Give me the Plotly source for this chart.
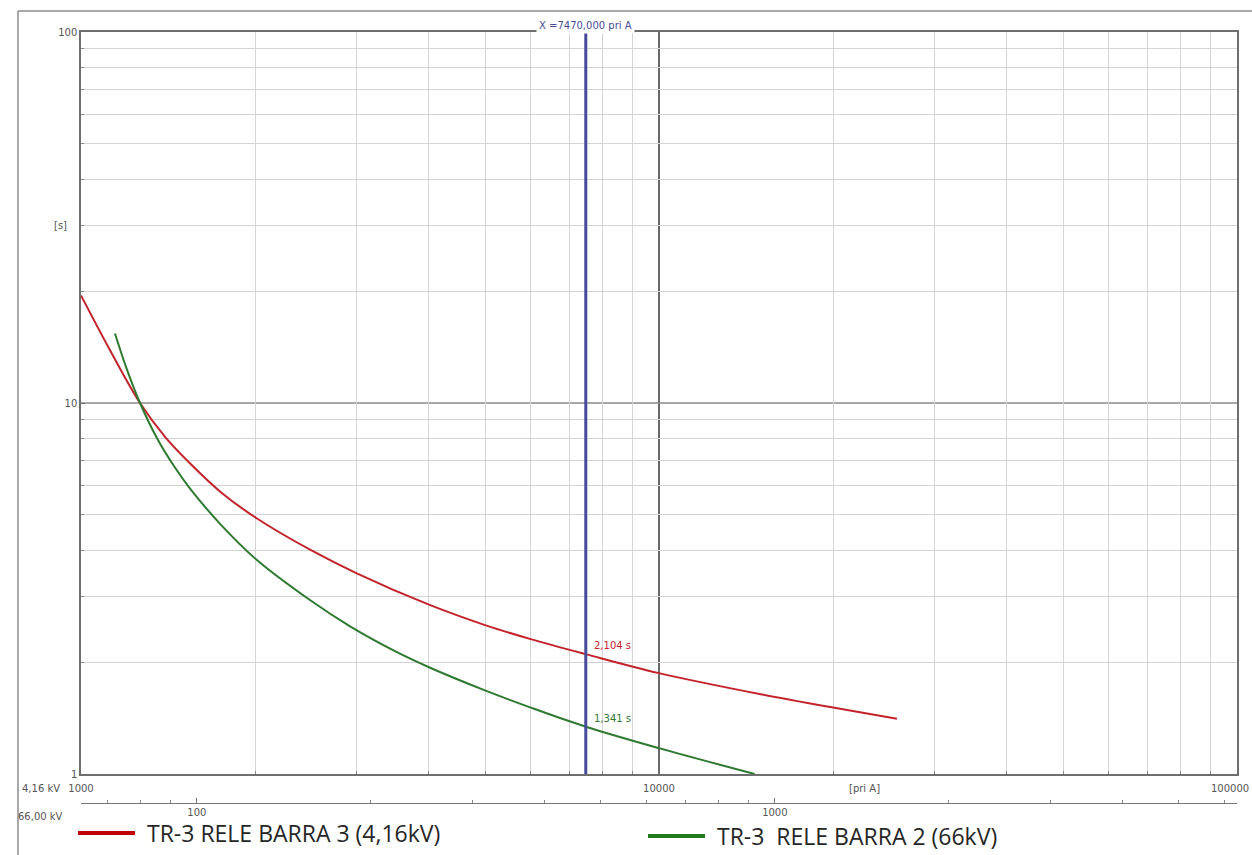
import math
import plotly.graph_objects as go

# ---------------- data ----------------
BASE_KV = 4.16          # primary current axis base (kV)
HV_KV = 66.0            # secondary current axis base (kV)

red_name = "TR-3 RELE BARRA 3 (4,16kV)"
red_current = [1000, 1122, 1265, 1400, 1543, 1750, 2013, 2500, 3000, 4000,
               5000, 6000, 7470, 10000, 15000, 20000, 25800]
red_time = [19.5, 13.9, 10.0, 8.08, 6.88, 5.73, 4.89, 4.01, 3.475, 2.86,
            2.52, 2.31, 2.104, 1.87, 1.64, 1.51, 1.41]

green_name = "TR-3  RELE BARRA 2 (66kV)"
green_current = [1145, 1201, 1265, 1353, 1454, 1544, 1750, 2013, 2500, 2921, 3500,
                 4000, 5000, 6000, 7470, 10000, 14640]
green_time = [15.4, 12.3, 10.0, 8.05, 6.7, 5.88, 4.68, 3.78, 2.93, 2.50, 2.14,
              1.94, 1.68, 1.51, 1.341, 1.174, 1.0]

cursor_current = 7470
cursor_red_time = 2.104
cursor_green_time = 1.341

x_range = [1000, 100000]
y_range = [1, 100]
x_major = [1000, 10000, 100000]
y_major = [1, 10, 100]
x2_major = [100, 1000]

# ---------------- styling ----------------
RED = "#c3232b"
GREEN = "#2d7a30"
BLUE = "#474c98"
SMALL = "DejaVu Sans, Verdana"
TICKFONT = dict(family=SMALL, size=10, color="#555555")

W, H = 1252, 855
ML, MR, MT, MB = 81, 15, 32, 52
PW = W - ML - MR
PH = H - MT - MB
plot_bottom_px = 774
ydom0 = (MT + PH - plot_bottom_px) / PH


def xp(px):
    return (px - ML) / PW


def yp(py):
    return 1 - (py - MT) / PH


def minor_vals(lo, hi):
    vals = []
    d = math.floor(math.log10(lo))
    while 10 ** d < hi:
        for k in range(2, 10):
            v = k * 10 ** d
            if lo < v < hi:
                vals.append(v)
        d += 1
    return vals


ratio = BASE_KV / HV_KV
x2_lo, x2_hi = x_range[0] * ratio, x_range[1] * ratio

fig = go.Figure()

fig.add_trace(go.Scatter(x=red_current, y=red_time, mode="lines", name=red_name,
                         line=dict(color=RED, width=2, shape="spline", smoothing=1.0),
                         showlegend=False))
fig.add_trace(go.Scatter(x=green_current, y=green_time, mode="lines", name=green_name,
                         line=dict(color=GREEN, width=2, shape="spline", smoothing=1.0),
                         showlegend=False))
# cursor line
fig.add_trace(go.Scatter(x=[cursor_current, cursor_current], y=y_range, mode="lines",
                         line=dict(color=BLUE, width=3), showlegend=False,
                         hoverinfo="skip"))
# invisible trace to host the 66 kV axis
fig.add_trace(go.Scatter(x=[x2_lo, x2_hi], y=[1, 1], xaxis="x2", mode="lines",
                         line=dict(width=0), opacity=0, showlegend=False,
                         hoverinfo="skip"))

# last major label is drawn separately (right-aligned) so it stays on the page
x_ticktext = [str(v) for v in x_major[:-1]] + [""]

fig.update_layout(
    width=W, height=H, autosize=False,
    margin=dict(l=ML, r=MR, t=MT, b=MB, autoexpand=False),
    paper_bgcolor="white", plot_bgcolor="white",
    xaxis=dict(type="log", range=[math.log10(x_range[0]), math.log10(x_range[1])],
               tickmode="array", tickvals=x_major,
               ticktext=x_ticktext, automargin=False,
               tickfont=TICKFONT, ticks="inside", ticklen=4, tickcolor="#777",
               ticklabelstandoff=4, ticklabeloverflow="allow",
               showgrid=False, showline=True, mirror=True,
               linecolor="#6e6e6e", linewidth=1.5, zeroline=False,
               minor=dict(tickmode="array", tickvals=minor_vals(*x_range),
                          showgrid=True, gridcolor="#d4d4d4", gridwidth=1,
                          ticks="inside", ticklen=3, tickcolor="#888"),
               anchor="y"),
    yaxis=dict(type="log", range=[math.log10(y_range[0]), math.log10(y_range[1])],
               domain=[ydom0, 1], automargin=False,
               tickmode="array", tickvals=y_major,
               ticktext=[str(v) for v in y_major],
               tickfont=TICKFONT, ticks="inside", ticklen=4, tickcolor="#777",
               ticklabeloverflow="allow",
               showgrid=False, showline=True, mirror=True,
               linecolor="#6e6e6e", linewidth=1.5, zeroline=False,
               minor=dict(tickmode="array", tickvals=minor_vals(*y_range),
                          showgrid=True, gridcolor="#d4d4d4", gridwidth=1,
                          ticks="inside", ticklen=3, tickcolor="#888"),
               anchor="x"),
    xaxis2=dict(type="log", range=[math.log10(x2_lo), math.log10(x2_hi)],
                overlaying="x", anchor="free", position=0, side="bottom",
                tickmode="array", tickvals=x2_major, automargin=False,
                ticktext=[str(v) for v in x2_major],
                tickfont=TICKFONT, ticks="inside", ticklen=5, tickcolor="#777",
                ticklabeloverflow="allow",
                showgrid=False, showline=True, linecolor="#777", linewidth=1,
                zeroline=False,
                minor=dict(tickmode="array", tickvals=minor_vals(x2_lo, x2_hi),
                           showgrid=False, ticks="inside", ticklen=3,
                           tickcolor="#888")),
)

# emphasised grid lines (10 s and 10000 A)
fig.add_shape(type="line", xref="x", yref="paper", x0=10000, x1=10000, y0=ydom0, y1=1,
              line=dict(color="#2a2a2a", width=1.4), layer="below")
fig.add_shape(type="line", xref="paper", yref="y", x0=0, x1=1, y0=10, y1=10,
              line=dict(color="#8a8a8a", width=1.6), layer="below")

# outer frame
fig.add_shape(type="line", xref="paper", yref="paper", x0=xp(18), x1=xp(1260),
              y0=yp(11), y1=yp(11), line=dict(color="#8c8c8c", width=1.5))
fig.add_shape(type="line", xref="paper", yref="paper", x0=xp(18), x1=xp(18),
              y0=yp(11), y1=yp(870), line=dict(color="#8c8c8c", width=1.5))


def fmt(v):
    return f"{v:.3f}".replace(".", ",")


fig.add_annotation(x=math.log10(cursor_current), y=1, xref="x", yref="paper",
                   xanchor="center", yanchor="middle", yshift=7, showarrow=False,
                   text=f"X ={fmt(cursor_current)} pri A",
                   font=dict(family=SMALL, size=10, color=BLUE),
                   bgcolor="white", borderpad=2)
fig.add_annotation(x=math.log10(cursor_current), y=math.log10(cursor_red_time),
                   xref="x", yref="y", xanchor="left", yanchor="bottom",
                   xshift=6, yshift=1, showarrow=False,
                   text=f"{fmt(cursor_red_time)} s",
                   font=dict(family=SMALL, size=10, color=RED))
fig.add_annotation(x=math.log10(cursor_current), y=math.log10(cursor_green_time),
                   xref="x", yref="y", xanchor="left", yanchor="bottom",
                   xshift=6, yshift=1, showarrow=False,
                   text=f"{fmt(cursor_green_time)} s",
                   font=dict(family=SMALL, size=10, color=GREEN))

# right-most x tick label
fig.add_annotation(x=xp(1251), y=yp(788), xref="paper", yref="paper",
                   xanchor="right", yanchor="middle", showarrow=False,
                   text=str(x_major[-1]), font=TICKFONT)

# axis captions
fig.add_annotation(x=xp(60), y=math.log10(30), xref="paper", yref="y",
                   xanchor="center", yanchor="middle", showarrow=False,
                   text="[s]", font=TICKFONT)
fig.add_annotation(x=4.3547, y=yp(788), xref="x", yref="paper",
                   xanchor="center", yanchor="middle", showarrow=False,
                   text="[pri A]", font=TICKFONT)
fig.add_annotation(x=xp(41), y=yp(788), xref="paper", yref="paper",
                   xanchor="center", yanchor="middle", showarrow=False,
                   text=f"{BASE_KV:.2f} kV".replace(".", ","), font=TICKFONT)
fig.add_annotation(x=xp(40), y=yp(816), xref="paper", yref="paper",
                   xanchor="center", yanchor="middle", showarrow=False,
                   text=f"{HV_KV:.2f} kV".replace(".", ","), font=TICKFONT)

# legend (drawn manually)
LEGFONT = dict(family="Open Sans, Noto Sans", size=23, color="#262626")
fig.add_shape(type="line", xref="paper", yref="paper", x0=xp(78), x1=xp(135),
              y0=yp(833), y1=yp(833), line=dict(color="#c00000", width=4))
fig.add_annotation(x=xp(145), y=yp(833), xref="paper", yref="paper",
                   xanchor="left", yanchor="middle", showarrow=False,
                   text=red_name, font=LEGFONT)
fig.add_shape(type="line", xref="paper", yref="paper", x0=xp(648), x1=xp(705),
              y0=yp(836), y1=yp(836), line=dict(color="#1e7b1e", width=4))
fig.add_annotation(x=xp(715), y=yp(836), xref="paper", yref="paper",
                   xanchor="left", yanchor="middle", showarrow=False,
                   text=green_name.replace("  ", "&nbsp; "), font=LEGFONT)

fig.write_html(
    "out.html",
    config={"displayModeBar": False},
    post_script="document.body.style.margin='0';document.body.style.padding='0';"
                "document.body.style.overflow='hidden';"
                "document.documentElement.style.overflow='hidden';",
)
